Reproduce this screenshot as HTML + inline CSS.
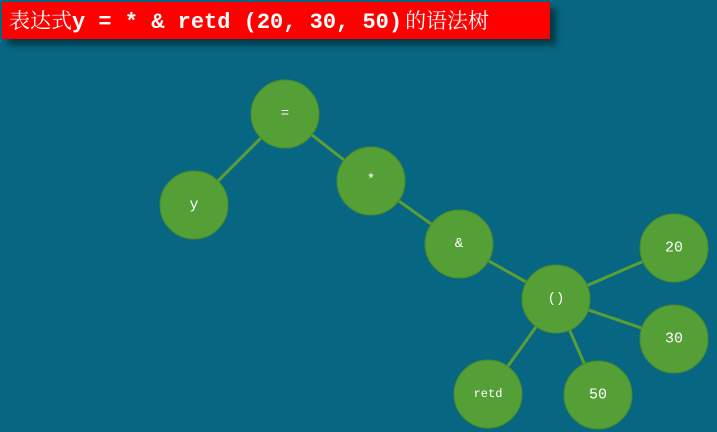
<!DOCTYPE html>
<html><head><meta charset="utf-8"><style>
body{margin:0;width:717px;height:432px;background:#076783;overflow:hidden;position:relative;font-family:"Liberation Mono",monospace}
.t{position:absolute;left:2px;top:2px;width:548px;height:37px;background:#ff0000;box-shadow:6px 6px 6px rgba(0,0,0,0.45);color:#fff;font-size:22px;line-height:37px;white-space:nowrap}
.t .c{font-family:"Noto Serif CJK SC","WenQuanYi Zen Hei",serif;font-size:21px;padding-left:7px}
.t b{font-family:"Liberation Mono",monospace;font-size:22px}
</style></head><body>
<div class="t"><span class="c">表达式</span><b>y = * &amp; retd (20, 30, 50)</b><span class="c" style="padding-left:3px">的语法树</span></div>
<svg width="717" height="432" style="position:absolute;left:0;top:0">
<g stroke="#5a9e35" stroke-width="3">
<line x1="285" y1="114" x2="194" y2="205"/>
<line x1="285" y1="114" x2="371" y2="181"/>
<line x1="371" y1="181" x2="459" y2="244"/>
<line x1="459" y1="244" x2="556" y2="299"/>
<line x1="556" y1="299" x2="674" y2="248"/>
<line x1="556" y1="299" x2="674" y2="339"/>
<line x1="556" y1="299" x2="488" y2="394"/>
<line x1="556" y1="299" x2="598" y2="395"/>
</g>
<g fill="#559f37" stroke="#4a8a2c" stroke-width="1">
<circle cx="285" cy="114" r="34"/><circle cx="194" cy="205" r="34"/>
<circle cx="371" cy="181" r="34"/><circle cx="459" cy="244" r="34"/>
<circle cx="556" cy="299" r="34"/><circle cx="674" cy="248" r="34"/>
<circle cx="674" cy="339" r="34"/><circle cx="488" cy="394" r="34"/>
<circle cx="598" cy="395" r="34"/>
</g>
<g fill="#fff" font-family="Liberation Mono, monospace" text-anchor="middle" dominant-baseline="central">
<text x="285" y="114" font-size="14">=</text>
<text x="194" y="205" font-size="15">y</text>
<text x="371" y="180" font-size="14">*</text>
<text x="459" y="244" font-size="14">&amp;</text>
<text x="556" y="299" font-size="14">()</text>
<text x="674" y="248" font-size="15">20</text>
<text x="674" y="339" font-size="15">30</text>
<text x="488" y="394" font-size="12">retd</text>
<text x="598" y="395" font-size="15">50</text>
</g>
</svg>
</body></html>
